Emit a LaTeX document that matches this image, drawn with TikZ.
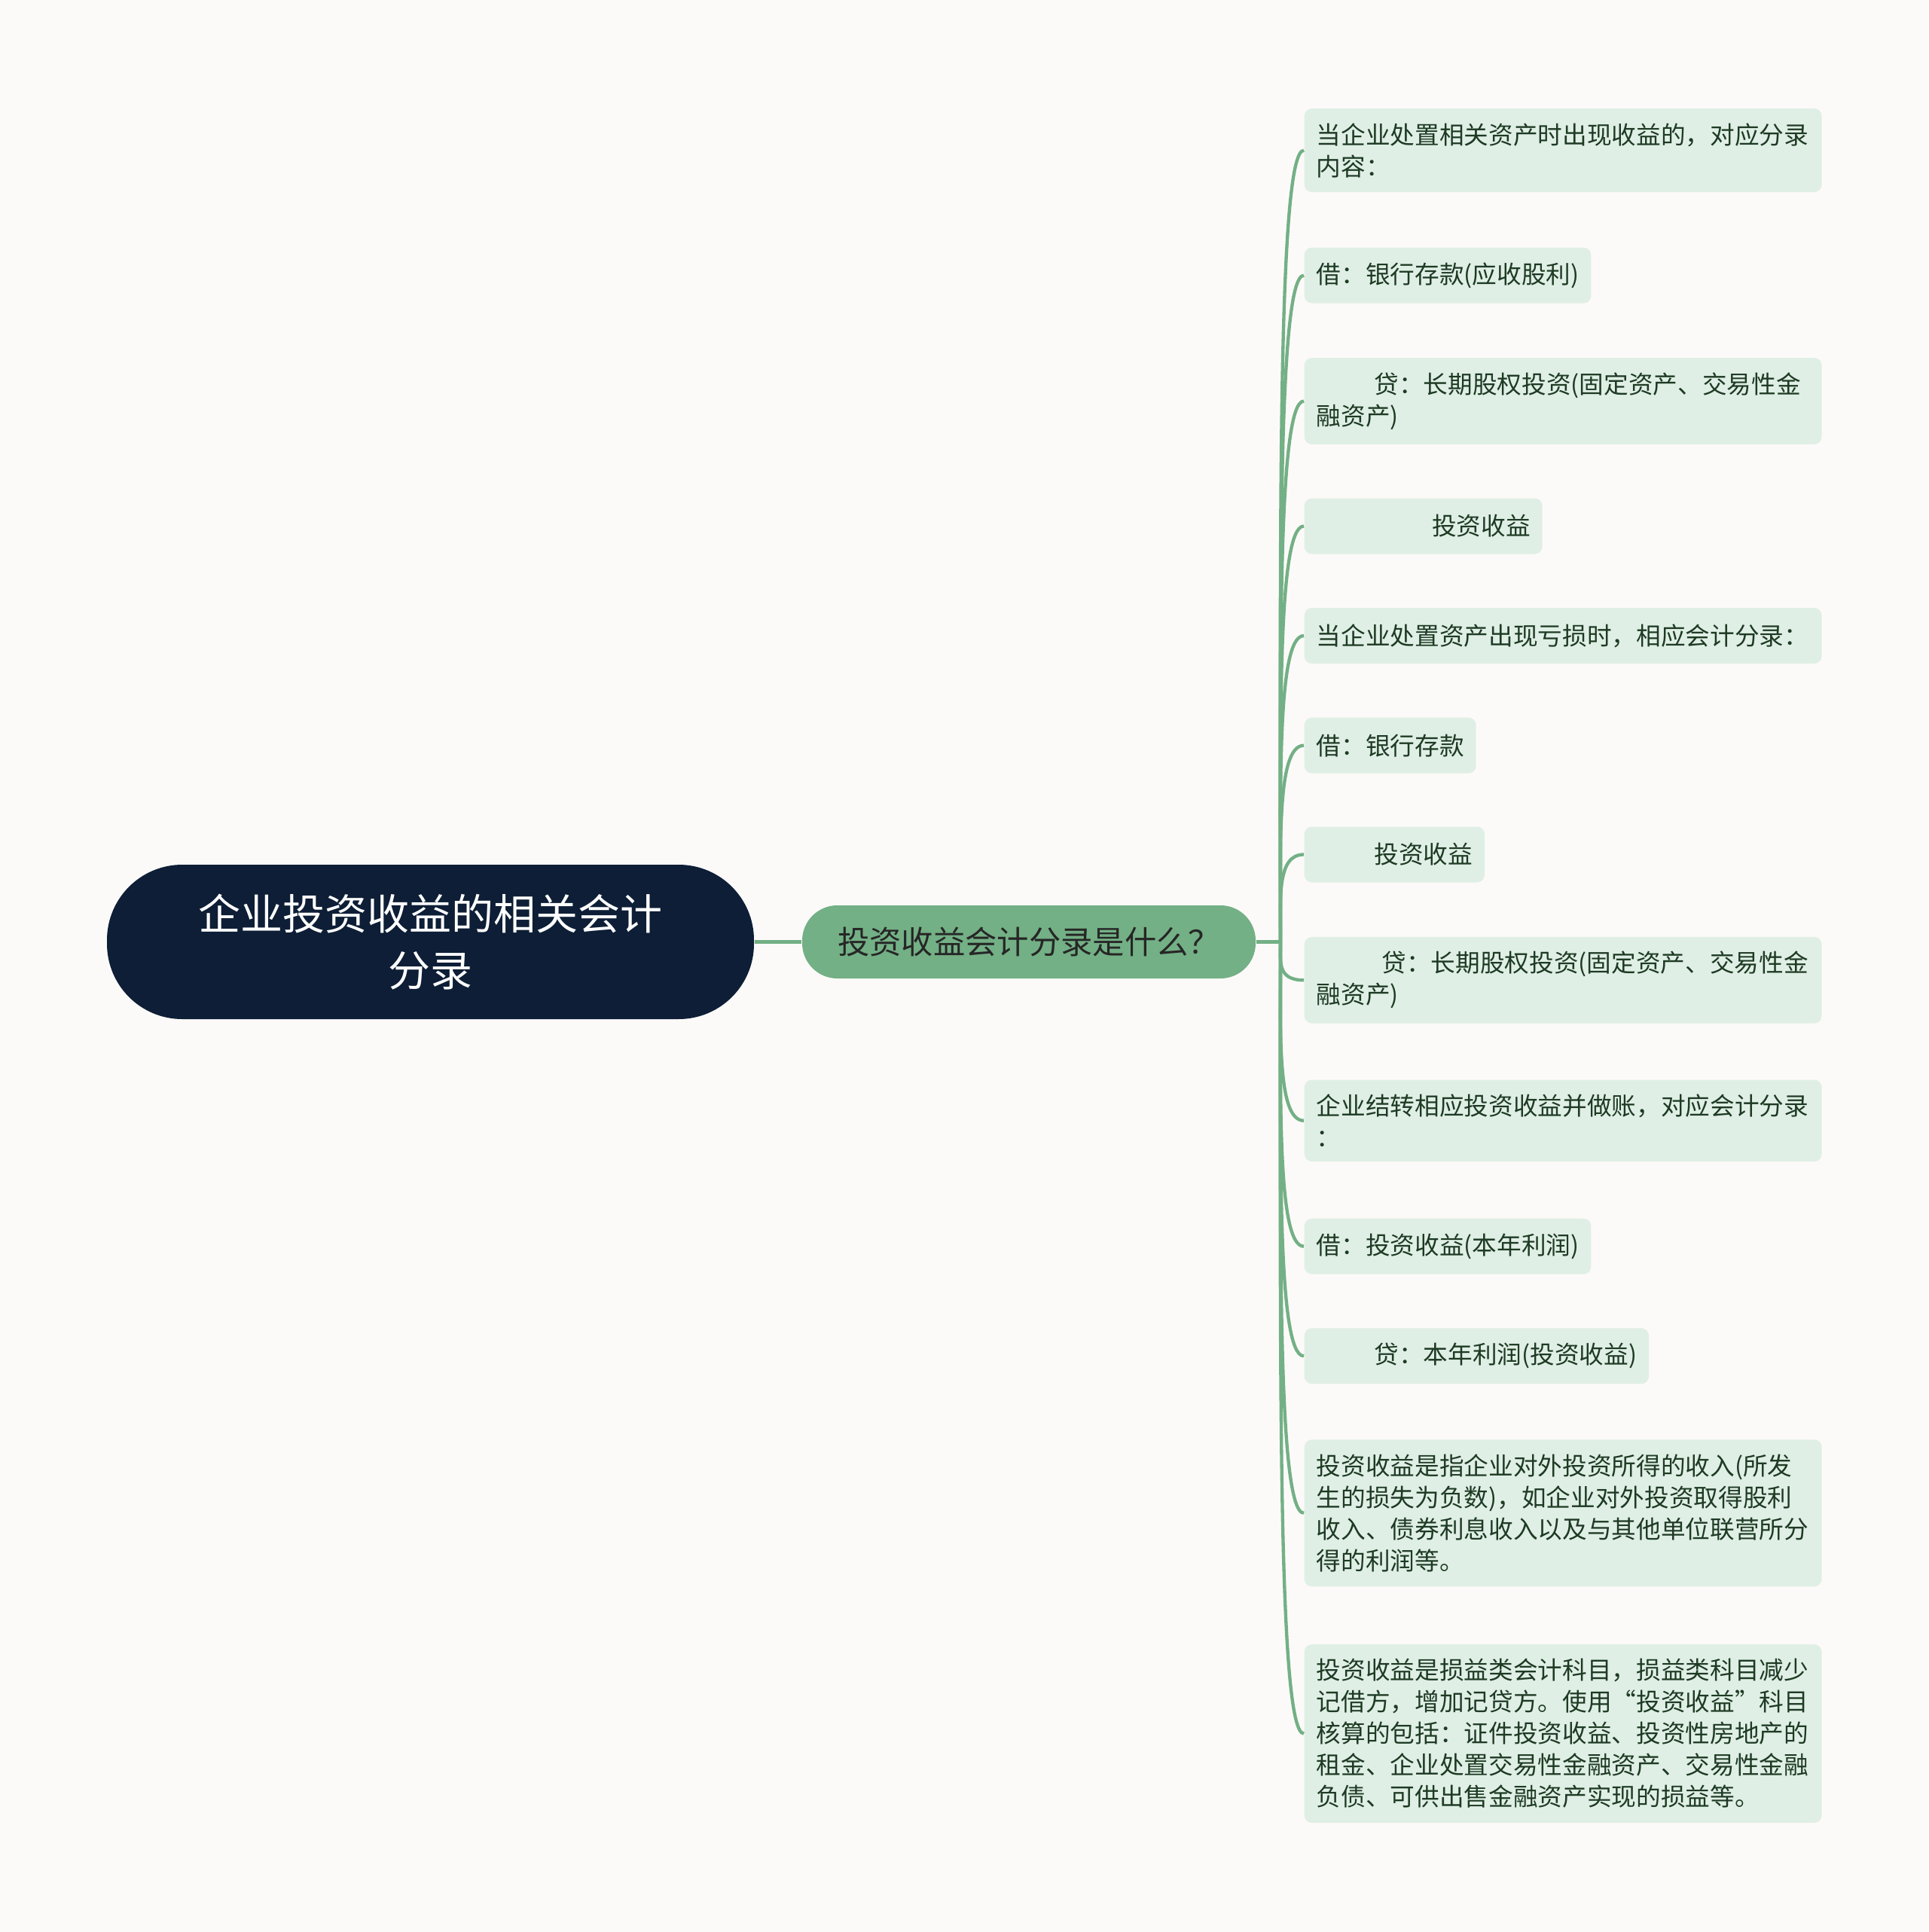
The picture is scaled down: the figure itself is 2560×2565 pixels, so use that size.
\documentclass[tikz,border=0pt]{standalone}
\usepackage{fontspec}
\setmainfont{Noto Sans CJK SC}
\usepackage{xcolor}
\usetikzlibrary{calc}
\definecolor{bgpaper}{HTML}{FCFAF9}
\definecolor{rootblue}{HTML}{0D1E36}
\definecolor{midgreen}{HTML}{73B085}
\definecolor{leafgreen}{HTML}{E0EFE5}
\definecolor{leaftext}{HTML}{1E3A24}
\tikzset{
 rootnode/.style={fill=rootblue, text=white, rounded corners=30pt, minimum width=257.7pt, minimum height=61.5pt, align=center, font=\fontsize{16.8}{22.6}\selectfont},
 midnode/.style={fill=midgreen, text=black!85, rounded corners=14pt, minimum width=180.6pt, minimum height=29.1pt, font=\fontsize{12.7}{14}\selectfont},
 leaf/.style={anchor=west, fill=leafgreen, text=leaftext, rounded corners=3pt, align=left, inner xsep=4.8pt, inner ysep=5.8pt, minimum height=22.2pt, font=\fontsize{9.8}{12.6}\selectfont},
 wideleaf/.style={leaf, text width=196.5pt},
 link/.style={midgreen, line width=1.3pt}
}

\begin{document}
\begin{tikzpicture}[x=0.3pt, y=-0.3pt]
\fill[bgpaper] (0,0) rectangle (2560,2565);
\node[rootnode] (root) at (571.5,1250.5) {企业投资收益的相关会计\\分录};
\node[midnode] (ask) at (1366,1250.5) {投资收益会计分录是什么？};
\coordinate (fork) at (1700,1250.5);
% entries
\node[wideleaf] (l1) at (1731,199.6) {当企业处置相关资产时出现收益的，对应分录\\内容：};
\node[leaf] (l2) at (1731,365.6) {借：银行存款(应收股利)};
\node[wideleaf] (l3) at (1731,532.5) {\hspace*{23pt}贷：长期股权投资(固定资产、交易性金\\融资产)};
\node[leaf] (l4) at (1731,698.5) {\hspace*{46pt}投资收益};
\node[wideleaf] (l5) at (1731,844) {当企业处置资产出现亏损时，相应会计分录：};
\node[leaf] (l6) at (1731,989.7) {借：银行存款};
\node[leaf] (l7) at (1731,1134.5) {\hspace*{23pt}投资收益};
\node[wideleaf] (l8) at (1731,1301.3) {\hspace*{26pt}贷：长期股权投资(固定资产、交易性金\\融资产)};
\node[wideleaf] (l9) at (1731,1487.8) {企业结转相应投资收益并做账，对应会计分录\\：};
\node[leaf] (l10) at (1731,1654.7) {借：投资收益(本年利润)};
\node[leaf] (l11) at (1731,1800.3) {\hspace*{23pt}贷：本年利润(投资收益)};
\node[wideleaf] (l12) at (1731,2008.8) {投资收益是指企业对外投资所得的收入(所发\\生的损失为负数)，如企业对外投资取得股利\\收入、债券利息收入以及与其他单位联营所分\\得的利润等。};
\node[wideleaf] (l13) at (1731,2301.6) {投资收益是损益类会计科目，损益类科目减少\\记借方，增加记贷方。使用“投资收益”科目\\核算的包括：证件投资收益、投资性房地产的\\租金、企业处置交易性金融资产、交易性金融\\负债、可供出售金融资产实现的损益等。};
% links
\draw[link] (root) -- (ask);
\draw[link] (ask) -- (fork);
\foreach \n in {l1,l2,l3,l4,l5,l6,l7,l8,l9,l10,l11,l12,l13} {
 \draw[link] (fork) .. controls ($(fork)!.5!(fork |- \n.west)$) and +(-36,0) .. (\n.west);
}
\end{tikzpicture}
\end{document}
